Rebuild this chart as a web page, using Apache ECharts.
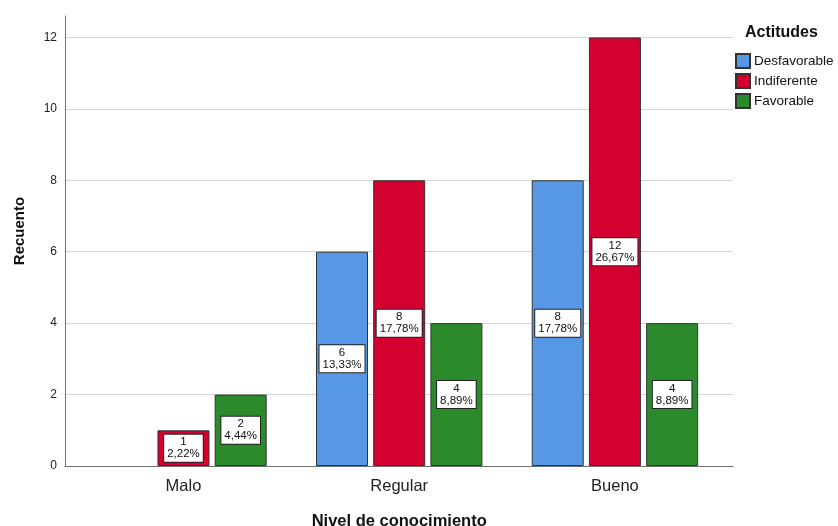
<!DOCTYPE html>
<html>
<head>
<meta charset="utf-8">
<script src="https://cdn.jsdelivr.net/npm/echarts@6/dist/echarts.min.js"></script>
<style>
  html, body { margin: 0; padding: 0; background: #fff; }
  #chart { width: 838px; height: 526px; }
</style>
</head>
<body>
<div id="chart"></div>
<script>
// datos
const categories = ['Malo', 'Regular', 'Bueno'];
const desfavorable = [null, 6, 8];
const indiferente = [1, 8, 12];
const favorable = [2, 4, 4];
const total = 45; // total de casos
const yTicks = [0, 2, 4, 6, 8, 10, 12];

const FONT = 'Arial, "Liberation Sans", sans-serif';

let chart = echarts.init(document.getElementById('chart'), null, { renderer: 'canvas' });

function pctLabel(p) {
  if (p.value == null) return '';
  let pct = (p.value / total * 100).toFixed(2).replace('.', ',');
  return p.value + '\n' + pct + '%';
}

const barLabel = {
  show: true,
  position: 'inside',
  formatter: pctLabel,
  fontFamily: FONT,
  fontSize: 11.5,
  lineHeight: 12,
  color: '#111',
  backgroundColor: '#fff',
  borderColor: '#222',
  borderWidth: 1,
  padding: [2, 3, 1, 3],
};

function makeSeries(name, data, color) {
  return {
    name: name,
    type: 'bar',
    xAxisIndex: 1,
    yAxisIndex: 1,
    data: data,
    barWidth: 52,
    barGap: '10%',
    itemStyle: { color: color, borderColor: '#333', borderWidth: 1 },
    label: barLabel,
    emphasis: { disabled: true },
  };
}

let option = {
  animation: false,
  backgroundColor: '#fff',
  title: {
    text: 'Actitudes',
    left: 745,
    top: 25,
    padding: 0,
    textStyle: { fontFamily: FONT, fontSize: 16, fontWeight: 'bold', color: '#111' },
  },
  legend: {
    orient: 'vertical',
    left: 735,
    top: 53,
    padding: 0,
    itemWidth: 14,
    itemHeight: 14,
    itemGap: 4,
    icon: 'rect',
    selectedMode: false,
    textStyle: { fontFamily: FONT, fontSize: 13.5, color: '#111', padding: [0, 0, 0, -1] },
    data: ['Desfavorable', 'Indiferente', 'Favorable'],
  },
  grid: [
    { left: 65, right: 105, top: 16, bottom: 60, outerBoundsMode: 'none', containLabel: false },
    { left: 75.6, right: 115.2, top: 16, bottom: 60, outerBoundsMode: 'none', containLabel: false },
  ],
  xAxis: [
    {
      gridIndex: 0,
      type: 'category',
      data: [''],
      axisLine: { lineStyle: { color: '#707070', width: 1 } },
      axisTick: { show: false },
      axisLabel: { show: false },
    },
    {
      gridIndex: 1,
      type: 'category',
      data: categories,
      axisLine: { show: false },
      axisTick: { show: false },
      axisLabel: { margin: 12, fontFamily: FONT, fontSize: 16.5, color: '#222' },
      name: 'Nivel de conocimiento',
      nameLocation: 'middle',
      nameGap: 47,
      nameTextStyle: { fontFamily: FONT, fontSize: 16.5, fontWeight: 'bold', color: '#111' },
    },
  ],
  yAxis: [
    {
      gridIndex: 0,
      type: 'value',
      min: 0,
      max: 12.6,
      interval: 2,
      axisLine: { show: true, lineStyle: { color: '#707070', width: 1 } },
      axisTick: { show: false },
      axisLabel: {
        margin: 8,
        fontFamily: FONT,
        fontSize: 12,
        color: '#222',
        showMaxLabel: false,
        formatter: v => (yTicks.indexOf(v) >= 0 ? String(v) : ''),
      },
      splitLine: { show: true, showMaxLine: false, lineStyle: { color: '#d6d6d6', width: 1 } },
      name: 'Recuento',
      nameLocation: 'middle',
      nameGap: 38,
      nameTextStyle: { fontFamily: FONT, fontSize: 15, fontWeight: 'bold', color: '#111', padding: [0, 0, 0, 20] },
    },
    {
      gridIndex: 1,
      type: 'value',
      min: 0,
      max: 12.6,
      show: false,
      splitLine: { show: false },
    },
  ],
  series: [
    makeSeries('Desfavorable', desfavorable, '#5697e6'),
    makeSeries('Indiferente', indiferente, '#d4002f'),
    makeSeries('Favorable', favorable, '#2b8a2c'),
  ],
};

chart.setOption(option);
window.addEventListener('resize', chart.resize);
</script>
</body>
</html>
